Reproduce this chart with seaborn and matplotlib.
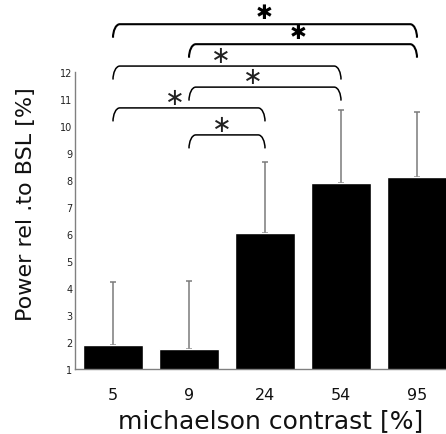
import matplotlib
matplotlib.use("Agg")
import matplotlib.pyplot as plt
import seaborn as sns
import pandas as pd
from matplotlib.path import Path
from matplotlib.patches import PathPatch

# ---- data ----
contrast_labels = ["5", "9", "24", "54", "95"]
power_mean = [1.89, 1.74, 6.02, 7.90, 8.12]
power_err_upper = [2.32, 2.51, 2.66, 2.69, 2.40]
yticks = [1, 2, 3, 4, 5, 6, 7, 8, 9, 10, 11, 12]

# significance comparisons (index pairs) and bracket heights
sig_pairs = [(0, 2), (1, 2), (1, 3), (0, 3), (1, 4), (0, 4)]
sig_levels = [10.67, 9.67, 11.44, 12.22, 13.03, 13.77]
star_x = [0.81, 1.43, 1.84, 1.42, 2.43, 1.99]
star_bold = [False, False, False, False, True, True]

df = pd.DataFrame({"contrast": contrast_labels, "power": power_mean})

sns.set_style("white")
plt.rcParams["font.family"] = ["DejaVu Sans"]

fig = plt.figure(figsize=(4.46, 4.35), dpi=100)
ax = fig.add_axes([75 / 446, 65 / 435, 380 / 446, 297 / 435])

sns.barplot(data=df, x="contrast", y="power", color="black", width=0.8,
            saturation=1, errorbar=None, ax=ax, zorder=2)

xs = list(range(len(contrast_labels)))
ax.errorbar(xs, power_mean, yerr=[[0] * len(xs), power_err_upper], fmt="none",
            ecolor="#7a7a7a", elinewidth=1.1, capsize=2.2, capthick=1.1, zorder=1)

ax.set_xlim(-0.5, 4.5)
ax.set_ylim(1, 12)
ax.set_yticks(yticks)
ax.set_yticklabels([str(t) for t in yticks], fontsize=7, color="#222222")
ax.tick_params(axis="y", direction="in", length=3, width=0.8, color="#555555", pad=2)
ax.tick_params(axis="x", length=0, labelsize=11.5, pad=13, colors="#111111")

for s in ["top", "right"]:
    ax.spines[s].set_visible(False)
for s in ["left", "bottom"]:
    ax.spines[s].set_color("#808080")
    ax.spines[s].set_linewidth(1.0)

ax.set_xlabel("michaelson contrast [%]", fontsize=18, color="#111111")
ax.xaxis.set_label_coords(0.516, -0.133)
ax.set_ylabel("Power rel .to BSL [%]", fontsize=16, color="#111111")
ax.yaxis.set_label_coords(-0.103, 0.559)

# brackets
h = 0.5
dx = 0.09
for (a, b), lvl, sx, bold in zip(sig_pairs, sig_levels, star_x, star_bold):
    verts = [(a, lvl - h), (a, lvl - h * 0.5), (a + dx * 0.4, lvl), (a + dx, lvl),
             (b - dx, lvl),
             (b - dx * 0.4, lvl), (b, lvl - h * 0.5), (b, lvl - h)]
    codes = [Path.MOVETO, Path.CURVE4, Path.CURVE4, Path.CURVE4,
             Path.LINETO,
             Path.CURVE4, Path.CURVE4, Path.CURVE4]
    lw = 1.5 if bold else 1.1
    patch = PathPatch(Path(verts, codes), fill=False, edgecolor="black",
                      linewidth=lw, clip_on=False, zorder=3)
    ax.add_patch(patch)
    ax.text(sx, lvl + 0.42, "\u2731" if bold else "\u2217", ha="center", va="center",
            fontsize=14.5 if bold else 17,
            color="black" if bold else "#222222", clip_on=False)

fig.savefig("out.png", dpi=100)
